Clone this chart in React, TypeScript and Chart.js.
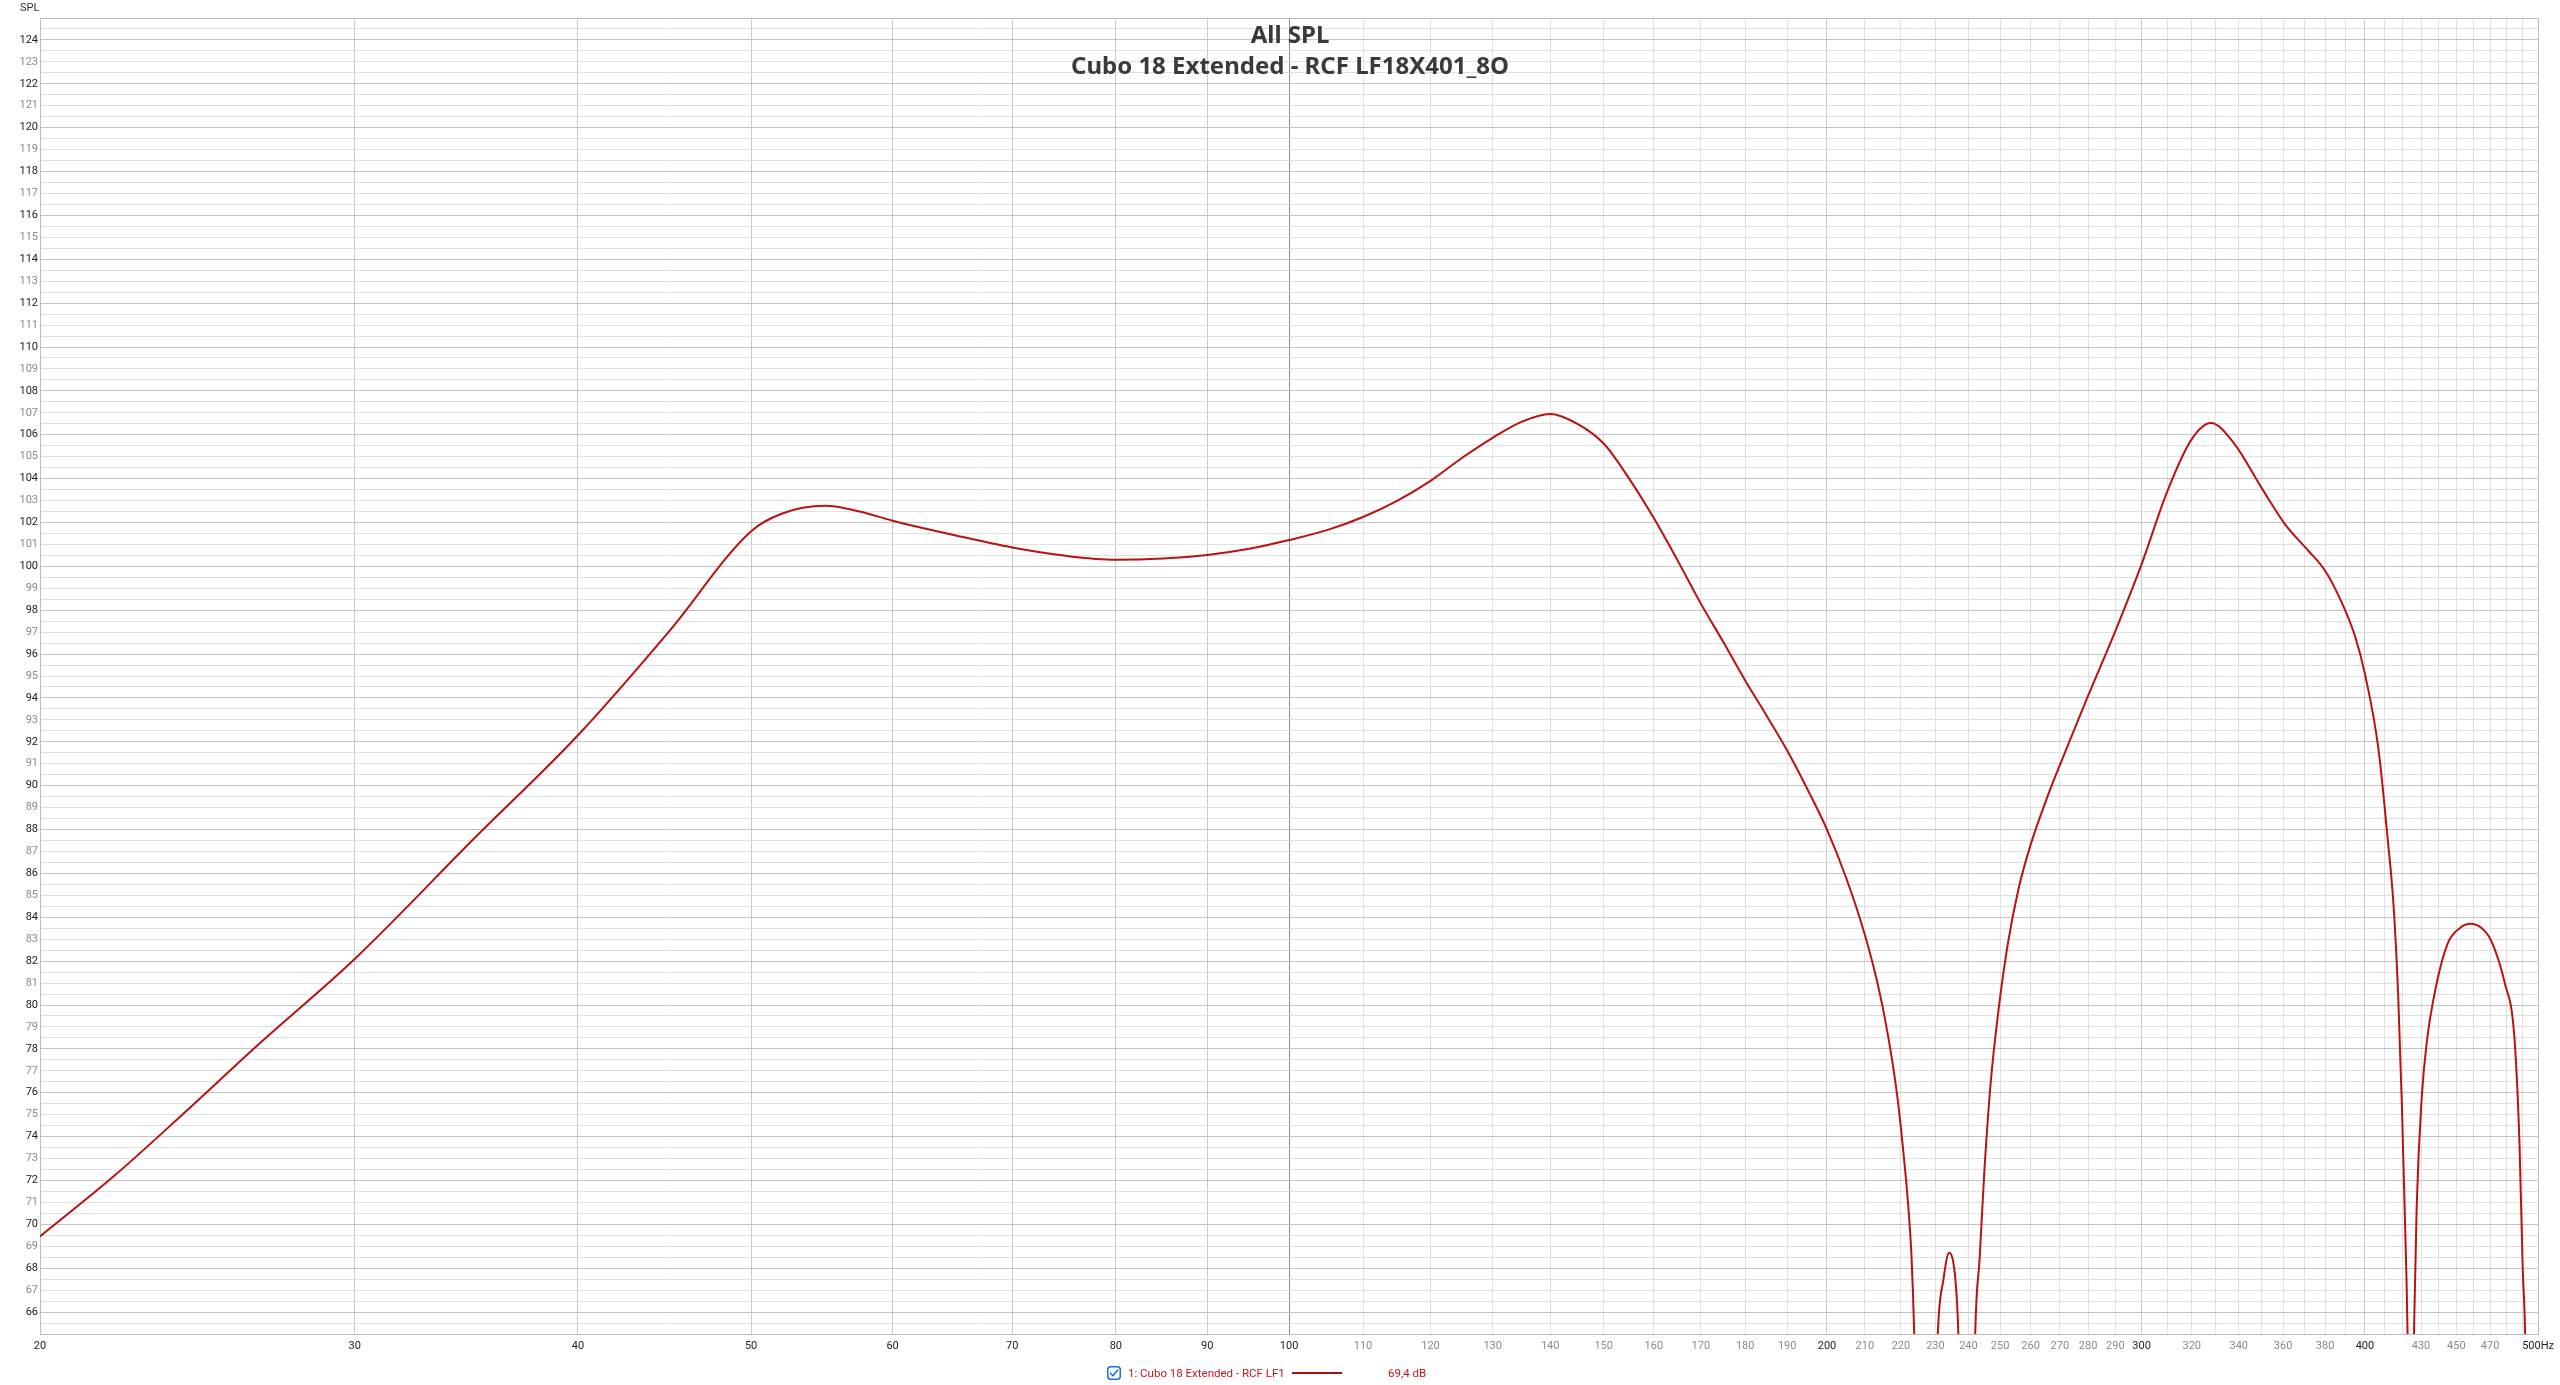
import React, { useEffect, useRef } from 'react';
import { Chart, registerables } from 'chart.js';

Chart.register(...registerables);

// ---- data ----
const FREQ_HZ = [20, 22, 24.1, 26.5, 30, 35, 40, 45, 50, 52, 55, 57.5, 60, 65, 70, 75, 80, 85, 90, 95, 100, 105, 110, 115, 120, 125, 130, 135, 140, 145, 150, 155, 160, 165, 170, 175, 180, 185, 190, 195, 200, 205, 210, 214, 217, 219, 220.5, 222, 223, 223.8, 225, 227, 229, 230.7, 232.4, 234.1, 236.1, 236.9, 238.5, 240, 241.2, 242.1, 243.5, 245, 247, 249.5, 252.5, 256, 260, 266, 273, 280, 290, 300, 310, 320, 328, 338, 350, 361, 372, 380, 388, 395, 400, 407, 412, 415, 417.5, 419.5, 421, 422.6, 424.3, 426.1, 427.6, 430.4, 433.2, 438, 445, 452, 458, 465, 470.6, 479, 485, 488.2, 490.2, 491.7, 494, 500];

const SPL_DB = [69.45, 72.2, 75.1, 78.2, 82.1, 87.6, 92.3, 97.05, 101.6, 102.4, 102.76, 102.5, 102.08, 101.42, 100.86, 100.48, 100.3, 100.36, 100.52, 100.8, 101.2, 101.65, 102.25, 103.0, 103.9, 104.95, 105.86, 106.6, 106.95, 106.5, 105.6, 104.0, 102.2, 100.26, 98.3, 96.55, 94.8, 93.2, 91.6, 89.85, 88.0, 85.8, 83.2, 80.6, 78.0, 75.8, 73.6, 71.0, 68.6, 65.0, 55, 45, 55, 65, 67.5, 68.7, 67.3, 65, 55, 48, 57, 65, 68.5, 72.5, 76.5, 79.8, 82.8, 85.3, 87.3, 89.6, 91.9, 94.1, 97.05, 100.1, 103.4, 105.8, 106.54, 105.6, 103.6, 101.9, 100.7, 99.8, 98.4, 96.8, 95.1, 91.7, 87.5, 84.6, 80.5, 75.5, 70.8, 65, 52, 65, 70.8, 75.8, 78.3, 80.7, 82.8, 83.5, 83.7, 83.5, 82.95, 81.0, 78.5, 73.6, 68.0, 65, 52, 35];

const X_MIN = 20;
const X_MAX = 500;
const Y_MIN = 65;
const Y_MAX = 125;

const X_TICK_LABELS = [20, 30, 40, 50, 60, 70, 80, 90, 100, 110, 120, 130, 140, 150, 160, 170, 180, 190, 200, 210, 220, 230, 240, 250, 260, 270, 280, 290, 300, 320, 340, 360, 380, 400, 430, 450, 470, 500];
const X_DARK_LABELS = [20, 30, 40, 50, 60, 70, 80, 90, 100, 200, 300, 400, 500];
const X_MEDIUM_GRID = [30, 40, 50, 60, 70, 80, 90, 200, 300, 400];

const SERIES_NAME = '1: Cubo 18 Extended - RCF LF1';
const SERIES_VALUE = '69,4 dB';
const TITLE_1 = 'All SPL';
const TITLE_2 = 'Cubo 18 Extended - RCF LF18X401_8O';
const Y_AXIS_TITLE = 'SPL';

const LINE_COLOR = '#b81212';
const FONT = 'Roboto';

function xGrid(): number[] {
  const v: number[] = [20];
  for (let f = 30; f <= 100; f += 10) v.push(f);
  for (let f = 110; f <= 500; f += 10) v.push(f);
  return v;
}
function yGrid(): number[] {
  const v: number[] = [];
  for (let k = Y_MIN * 2; k <= Y_MAX * 2; k++) v.push(k / 2);
  return v;
}

export default function App() {
  const ref = useRef<HTMLCanvasElement | null>(null);

  useEffect(() => {
    if (!ref.current) return;
    const chart = new Chart(ref.current, {
      type: 'line',
      data: {
        datasets: [
          {
            label: SERIES_NAME,
            data: FREQ_HZ.map((f, i) => ({ x: f, y: SPL_DB[i] })),
            borderColor: LINE_COLOR,
            borderWidth: 2,
            pointRadius: 0,
            fill: false,
            cubicInterpolationMode: 'monotone',
          },
        ],
      },
      options: {
        animation: false,
        responsive: false,
        maintainAspectRatio: false,
        layout: { padding: { left: 0, top: 18, right: 20, bottom: 0 } },
        plugins: { legend: { display: false }, tooltip: { enabled: false }, title: { display: false } },
        scales: {
          x: {
            type: 'logarithmic',
            min: X_MIN,
            max: X_MAX,
            afterBuildTicks: (scale: any) => {
              scale.ticks = xGrid().map((v) => ({ value: v }));
            },
            afterFit: (scale: any) => {
              scale.height = 51;
            },
            ticks: {
              autoSkip: false,
              maxRotation: 0,
              minRotation: 0,
              padding: 6,
              font: { family: FONT, size: 11 },
              color: (ctx: any) => (X_DARK_LABELS.includes(ctx.tick?.value) ? '#222222' : '#8a8a8a'),
              callback: (value: any) => {
                const v = Number(value);
                if (!X_TICK_LABELS.includes(v)) return '';
                return v === 500 ? '500Hz' : String(v);
              },
            },
            grid: {
              drawTicks: false,
              lineWidth: 1,
              color: (ctx: any) => {
                const v = ctx.tick?.value;
                if (v === 100) return '#8e8e8e';
                if (v === 20 || v === 500) return '#bdbdbd';
                if (X_MEDIUM_GRID.includes(v)) return '#cbcbcb';
                return '#e2e2e2';
              },
            },
            border: { display: true, color: '#bdbdbd' },
          },
          y: {
            type: 'linear',
            min: Y_MIN,
            max: Y_MAX,
            afterBuildTicks: (scale: any) => {
              scale.ticks = yGrid().map((v) => ({ value: v }));
            },
            afterFit: (scale: any) => {
              scale.width = 40;
            },
            ticks: {
              autoSkip: false,
              padding: 2,
              font: { family: FONT, size: 11 },
              color: (ctx: any) => {
                const v = ctx.tick?.value;
                return v % 2 === 0 ? '#222222' : '#8a8a8a';
              },
              callback: (value: any) => {
                const v = Number(value);
                if (Number.isInteger(v) && v >= 66 && v <= 124) return String(v);
                return '';
              },
            },
            grid: {
              drawTicks: false,
              lineWidth: 1,
              color: (ctx: any) => {
                const v = ctx.tick?.value;
                if (v === Y_MAX || v === Y_MIN) return '#bdbdbd';
                if (Number.isInteger(v) && v % 2 === 0) return '#c4c4c4';
                return '#e0e0e0';
              },
            },
            border: { display: true, color: '#bdbdbd' },
          },
        },
      },
    } as any);
    return () => chart.destroy();
  }, []);

  return (
    <div style={{ position: 'absolute', left: 0, top: 0, width: 2560, height: 1385, background: '#ffffff', overflow: 'hidden' }}>
      <canvas ref={ref} width={2560} height={1385} style={{ position: 'absolute', left: 0, top: 0, width: 2560, height: 1385 }} />
      <div style={{ position: 'absolute', left: 20, top: 0, font: `11px ${FONT}`, lineHeight: '15px', color: '#333333' }}>{Y_AXIS_TITLE}</div>
      <div
        style={{
          position: 'absolute',
          left: 40,
          width: 2500,
          top: 17.5,
          textAlign: 'center',
          fontFamily: '"Noto Sans"',
          fontWeight: 700,
          fontSize: 24,
          lineHeight: '31px',
          color: '#3a3a3a',
          pointerEvents: 'none',
        }}
      >
        <div>{TITLE_1}</div>
        <div>{TITLE_2}</div>
      </div>
      <svg style={{ position: 'absolute', left: 1107, top: 1366 }} width={14} height={14} viewBox="0 0 14 14">
        <rect x={0.75} y={0.75} width={12.5} height={12.5} rx={3} ry={3} fill="#ffffff" stroke="#1a6fd8" strokeWidth={1.5} />
        <path d="M3.5 7.2 L6 9.7 L10.6 4.3" fill="none" stroke="#1a6fd8" strokeWidth={1.6} strokeLinecap="round" strokeLinejoin="round" />
      </svg>
      <div style={{ position: 'absolute', left: 1128, top: 1365, font: `11.5px ${FONT}`, lineHeight: '16px', color: '#c8141e', whiteSpace: 'nowrap' }}>{SERIES_NAME}</div>
      <div style={{ position: 'absolute', left: 1292, top: 1372, width: 50, height: 2, background: '#a50f0f' }} />
      <div style={{ position: 'absolute', left: 1388, top: 1365, font: `11.5px ${FONT}`, lineHeight: '16px', color: '#c8141e', whiteSpace: 'nowrap' }}>{SERIES_VALUE}</div>
    </div>
  );
}
